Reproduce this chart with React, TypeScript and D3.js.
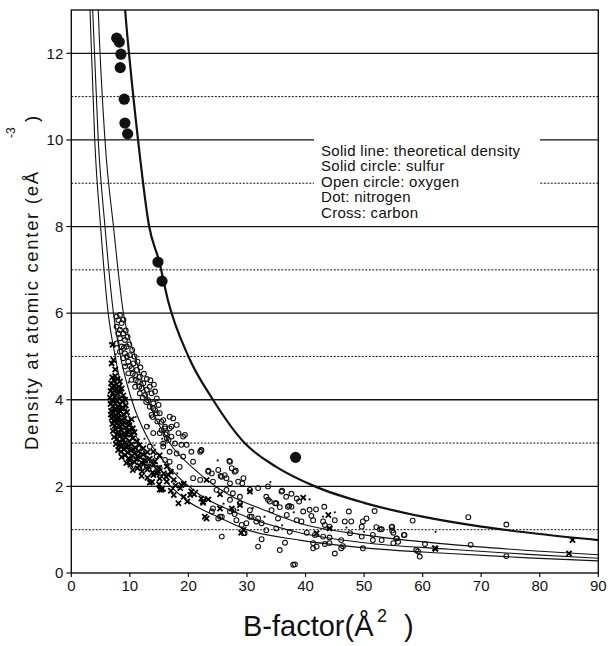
import React from "react";
import * as d3 from "d3";

const WIDTH = 608;
const HEIGHT = 646;
const plot = { left: 71.3, right: 598.3, top: 10, bottom: 573 };

// axis ticks
const xTicks = [0, 10, 20, 30, 40, 50, 60, 70, 80, 90];
const yTicks = [0, 2, 4, 6, 8, 10, 12];
const gridSolid = [2, 4, 6, 8, 10, 12];
const gridDotted = [1, 3, 5, 7, 9, 11];

const legendLines = [
  "Solid line: theoretical density",
  "Solid circle: sulfur",
  "Open circle: oxygen",
  "Dot: nitrogen",
  "Cross: carbon",
];

// theoretical density curves, [B, density]
const sulfurCurve = [
  [8.9, 13.6], [9.2, 13], [10, 11.8], [11.4, 10], [13.3, 8], [15, 7.2], [16.5, 6.3],
  [20, 5.0], [24.2, 4.0], [29.6, 3.0], [35, 2.45], [41.6, 2.0], [50, 1.62],
  [60, 1.3], [70, 1.07], [80, 0.9], [90, 0.76],
];
const oxygenCurve = [
  [4.4, 13.8], [4.6, 13], [5.75, 10], [7.2, 8], [8.9, 6], [10.9, 5], [13.1, 4],
  [16.8, 3], [21, 2.4], [27, 1.8], [33, 1.45], [39, 1.15], [50, 0.88],
  [64.6, 0.66], [78, 0.52], [90, 0.42],
];
const nitrogenCurve = [
  [3.45, 13.8], [3.65, 13], [4.6, 10], [5.75, 8], [7.2, 6], [8.4, 5], [10.3, 4],
  [13.5, 3], [17, 2.4], [22, 1.8], [28, 1.4], [39, 0.93], [50, 0.7],
  [64.6, 0.55], [78, 0.43], [90, 0.34],
];
const carbonCurve = [
  [3.0, 13.8], [3.2, 13], [4.0, 10], [5.0, 8], [6.3, 6], [7.5, 5], [9.0, 4],
  [11.6, 3], [15, 2.3], [20, 1.65], [25, 1.3], [30, 1.0], [39, 0.76],
  [50, 0.58], [64.6, 0.45], [78, 0.35], [90, 0.28],
];

const sulfurPoints = [
  [7.75, 12.35], [8.19, 12.26], [8.48, 11.98], [8.36, 11.67], [9.04, 10.94],
  [9.16, 10.39], [9.62, 10.14], [14.8, 7.18], [15.5, 6.74], [38.3, 2.67],
];

const oxygenPoints = [
  [7.74, 5.92], [8.31, 5.96], [8.03, 5.84], [8.6, 5.77], [7.74, 5.69], [8.31, 5.61],
  [8.03, 5.53], [8.88, 5.53], [8.31, 5.42], [9.17, 5.38], [7.74, 5.3], [8.6, 5.23],
  [9.45, 5.23], [8.31, 5.11], [9.17, 5.07], [10.0, 5.03], [8.88, 4.96], [9.73, 4.88],
  [10.6, 4.84], [9.17, 4.77], [10.3, 4.73], [11.2, 4.69], [9.73, 4.61], [10.9, 4.57],
  [11.7, 4.53], [10.3, 4.46], [11.4, 4.42], [12.3, 4.38], [10.9, 4.3], [12.0, 4.27],
  [12.9, 4.23], [13.4, 4.3], [11.7, 4.15], [12.6, 4.11], [13.7, 4.15], [14.6, 4.03],
  [13.1, 3.99], [14.0, 3.92], [14.9, 3.88], [13.4, 3.84], [14.3, 3.76], [15.1, 3.69],
  [13.7, 3.65], [15.7, 3.53], [16.8, 3.61], [17.4, 3.57], [16.0, 3.38], [16.8, 3.34],
  [18.0, 3.42], [16.3, 3.23], [17.1, 3.15], [18.3, 3.23], [16.6, 3.07], [17.7, 2.99],
  [15.7, 2.92], [16.8, 2.8], [18.0, 2.76], [14.6, 2.69], [16.0, 2.61], [13.7, 2.53],
  [15.1, 2.42], [12.9, 2.46], [12.3, 2.69], [13.4, 2.92], [14.0, 3.23], [12.9, 3.38],
  [8.9, 5.85], [9.3, 5.6], [9.6, 5.45], [9.9, 5.28], [10.4, 5.15], [10.8, 5.0],
  [11.3, 4.88], [11.8, 4.75], [12.4, 4.6], [12.9, 4.48], [13.5, 4.45], [14.1, 4.35],
  [9.0, 5.2], [9.5, 5.0], [10.0, 4.78], [10.5, 4.6], [11.0, 4.45], [11.6, 4.3],
  [12.2, 4.05], [12.8, 3.95], [13.9, 3.6], [14.7, 3.5], [15.4, 3.3], [16.1, 3.2],
  [14.3, 4.19], [14.0, 3.8], [14.6, 3.69], [15.4, 3.49], [15.1, 3.23], [16.0, 3.34],
  [17.1, 3.38], [16.3, 3.11], [15.7, 2.99], [19.1, 3.15], [19.4, 3.19], [18.8, 2.96],
  [19.7, 2.96], [20.5, 2.8], [22.0, 2.8], [22.2, 2.84], [20.8, 2.57], [19.1, 2.69],
  [23.4, 2.34], [25.1, 2.38], [24.0, 2.3], [25.7, 2.22], [26.2, 2.26], [27.1, 2.57],
  [27.4, 2.42], [27.9, 2.34], [28.5, 2.11], [29.4, 2.19], [27.1, 2.07], [24.8, 1.92],
  [24.2, 2.11], [26.5, 1.92], [27.6, 1.84], [27.1, 1.69], [28.8, 1.76], [24.0, 1.42],
  [25.1, 1.26], [25.7, 0.84], [20.8, 2.19], [22.0, 2.15], [18.5, 2.45], [16.8, 2.57],
  [30.5, 1.92], [31.9, 1.96], [33.6, 2.0], [35.9, 1.88], [36.7, 1.76], [33.3, 1.76],
  [33.9, 1.65], [35.0, 1.61], [37.0, 1.53], [38.5, 1.72], [32.5, 0.78], [31.9, 0.61],
  [35.6, 0.53], [36.5, 0.7], [29.6, 0.92], [24.2, 1.49], [25.7, 1.3], [27.9, 1.36],
  [30.5, 1.3], [31.6, 1.19], [29.1, 1.11], [27.1, 1.42],
  [22.2, 2.83], [27.0, 2.59], [28.1, 2.36], [23.4, 2.36], [25.5, 2.24], [26.5, 2.19],
  [29.2, 2.07], [36.0, 1.9], [37.6, 1.83], [34.8, 1.61], [35.6, 1.52], [37.2, 1.55],
  [31.9, 1.26], [30.8, 1.3], [32.5, 1.15], [27.7, 1.45], [25.4, 1.3], [29.4, 0.92],
  [38.2, 0.2], [33.6, 1.69], [34.2, 1.45], [36.8, 1.34], [35.3, 1.26], [30.5, 1.45],
  [28.8, 1.61], [33.3, 0.99], [35.0, 1.03], [37.3, 0.95], [29.9, 1.15], [28.2, 1.22],
  [38.9, 1.65], [37.6, 1.53], [39.6, 1.42], [40.7, 1.46], [41.8, 1.47], [43.2, 1.53],
  [47.4, 1.42], [51.8, 1.43], [38.5, 1.22], [39.3, 1.19], [41.0, 1.32], [41.3, 1.22],
  [43.0, 1.19], [43.3, 1.11], [44.1, 1.07], [45.0, 1.22], [46.7, 1.19], [47.8, 1.19],
  [49.8, 1.19], [50.4, 1.26], [49.6, 1.07], [52.1, 1.06], [52.7, 1.01], [54.7, 1.06],
  [40.2, 0.93], [41.6, 0.88], [43.0, 0.84], [44.1, 0.82], [46.1, 0.76], [47.6, 0.92],
  [49.6, 0.84], [51.5, 0.88], [53.0, 0.76], [55.5, 0.8], [56.9, 0.88], [41.3, 0.69],
  [41.9, 0.61], [43.3, 0.67], [44.1, 0.69], [46.4, 0.62], [46.1, 0.57], [49.8, 0.57],
  [51.5, 0.76], [55.0, 0.69], [60.4, 0.67], [45.0, 0.45], [41.3, 0.57], [37.9, 0.19],
  [58.3, 1.21], [67.8, 1.29], [74.3, 1.12], [53.0, 1.01], [54.8, 1.07], [54.8, 0.98],
  [55.0, 0.93], [55.6, 0.8], [55.8, 0.72], [56.8, 0.88], [68.2, 0.65], [58.9, 0.53],
  [59.2, 0.5], [59.5, 0.38], [74.3, 0.39],
];

const carbonPoints = [
  [7.0, 4.52], [7.5, 4.55], [7.9, 4.48], [8.3, 4.42],
  [6.8, 4.38], [7.3, 4.33], [7.7, 4.36], [8.1, 4.3], [8.6, 4.26],
  [6.7, 4.2], [7.1, 4.16], [7.5, 4.22], [7.9, 4.14], [8.4, 4.18], [8.9, 4.1],
  [6.6, 4.05], [7.0, 4.0], [7.4, 4.07], [7.8, 3.98], [8.2, 4.03], [8.7, 3.96], [9.2, 4.0],
  [6.7, 3.9], [7.1, 3.85], [7.5, 3.92], [7.9, 3.84], [8.3, 3.89], [8.8, 3.82], [9.3, 3.87],
  [6.8, 3.74], [7.2, 3.7], [7.6, 3.77], [8.0, 3.68], [8.4, 3.73], [8.9, 3.66], [9.5, 3.71],
  [6.9, 3.58], [7.3, 3.62], [7.7, 3.55], [8.1, 3.6], [8.6, 3.53], [9.1, 3.57], [9.7, 3.5], [10.3, 3.55],
  [7.0, 3.44], [7.4, 3.4], [7.8, 3.47], [8.3, 3.38], [8.8, 3.43], [9.3, 3.36], [9.9, 3.41], [10.5, 3.34],
  [7.1, 3.28], [7.6, 3.32], [8.0, 3.25], [8.5, 3.3], [9.0, 3.22], [9.6, 3.27], [10.2, 3.2], [10.8, 3.25],
  [7.3, 3.14], [7.8, 3.1], [8.3, 3.17], [8.8, 3.08], [9.3, 3.13], [9.9, 3.05], [10.5, 3.11], [11.2, 3.04],
  [7.6, 2.98], [8.1, 3.02], [8.6, 2.95], [9.1, 3.0], [9.7, 2.93], [10.3, 2.97], [10.9, 2.9], [11.6, 2.95], [12.3, 2.88],
  [8.0, 2.84], [8.5, 2.8], [9.0, 2.86], [9.6, 2.78], [10.2, 2.83], [10.8, 2.76], [11.5, 2.81], [12.2, 2.74], [13.0, 2.79],
  [8.6, 2.68], [9.2, 2.72], [9.8, 2.65], [10.4, 2.7], [11.1, 2.63], [11.8, 2.67], [12.6, 2.6], [13.4, 2.64], [14.3, 2.58],
  [9.4, 2.54], [10.1, 2.5], [10.8, 2.56], [11.6, 2.48], [12.4, 2.52], [13.2, 2.45], [14.1, 2.5], [15.0, 2.43],
  [10.5, 2.38], [11.3, 2.42], [12.1, 2.35], [13.0, 2.39], [13.9, 2.32], [14.8, 2.36], [15.8, 2.3], [17.0, 2.34],
  [12.0, 2.24], [13.0, 2.2], [14.0, 2.26], [15.1, 2.18], [16.2, 2.22], [17.5, 2.15],
  [13.8, 2.1], [15.0, 2.05], [16.3, 2.11], [17.8, 2.02], [19.2, 2.06],
  [15.5, 1.95], [17.0, 1.9], [18.6, 1.96], [20.5, 1.88],
  [17.5, 1.8], [19.2, 1.76], [21.0, 1.82], [19.8, 1.65], [22.5, 1.62],
  [7.25, 4.45], [7.65, 4.26], [7.15, 3.96], [7.55, 3.8], [7.95, 3.56], [7.45, 3.5],
  [8.15, 3.42], [8.55, 3.2], [7.95, 3.2], [8.45, 2.92], [9.4, 2.9], [10.0, 2.6],
  [6.95, 4.28], [8.0, 4.2], [6.75, 3.66], [8.6, 3.8], [9.0, 3.48], [7.2, 3.52],
  [9.5, 3.2], [10.6, 2.85], [11.3, 2.7], [9.9, 3.3], [8.2, 2.95], [12.0, 2.55],
  [7.06, 5.27], [6.9, 4.84], [7.2, 4.92], [7.5, 4.7], [13.4, 2.09], [15.1, 1.93],
  [14.0, 2.8], [15.1, 2.72], [16.3, 2.46], [14.6, 2.3], [16.6, 2.26], [15.4, 1.92],
  [18.3, 1.61], [18.8, 2.03], [20.3, 1.8], [22.2, 1.72], [22.5, 1.65], [23.1, 1.26],
  [25.4, 1.49], [28.8, 1.57], [30.5, 1.88], [29.4, 1.0], [23.1, 2.15], [23.4, 1.7],
  [22.8, 1.3], [39.6, 1.74], [43.9, 1.34], [41.9, 0.92], [29.0, 0.93], [27.4, 1.49],
  [25.4, 1.82], [62.1, 0.57], [44.1, 1.03], [85.6, 0.76], [85.0, 0.45], [62.2, 0.56],
];

const nitrogenPoints = [
  [8.5, 5.65], [7.6, 5.05], [6.6, 5.3], [9.8, 4.4], [11.0, 3.6], [12.5, 3.1], [14.2, 2.95],
  [16.5, 2.5], [18.1, 2.3], [20.5, 2.0], [23.0, 1.75], [26.0, 1.6], [28.5, 1.45],
  [33.0, 1.3], [40.7, 1.7], [43.0, 1.3], [38.0, 1.4], [47.0, 1.05], [50.0, 0.95],
  [62.2, 0.95], [36.0, 1.1], [31.0, 1.5], [21.5, 1.9], [15.5, 3.1], [13.2, 3.4],
  [10.5, 4.0], [9.2, 4.8], [16.0, 1.9], [25.0, 2.6], [12.0, 2.4], [45.0, 1.4], [34.0, 2.1],
];

const FONT = "'Liberation Sans', Arial, sans-serif";
const INK = "#111";

export default function App() {
  const x = d3.scaleLinear().domain([0, 90]).range([plot.left, plot.right]);
  const y = d3.scaleLinear().domain([0, 13]).range([plot.bottom, plot.top]);

  const line = d3
    .line<number[]>()
    .x((d) => x(d[0]))
    .y((d) => y(d[1]))
    .curve(d3.curveMonotoneX);

  return (
    <svg
      width={WIDTH}
      height={HEIGHT}
      style={{ position: "absolute", left: 0, top: 0, background: "#fff" }}
      fontFamily={FONT}
    >
      <defs>
        <clipPath id="plotArea">
          <rect x={plot.left} y={plot.top} width={plot.right - plot.left} height={plot.bottom - plot.top} />
        </clipPath>
      </defs>

      {/* grid */}
      {gridSolid.map((v) => (
        <line key={"s" + v} x1={plot.left} x2={plot.right} y1={y(v)} y2={y(v)} stroke={INK} strokeWidth={1.3} />
      ))}
      {gridDotted.map((v) => (
        <line key={"d" + v} x1={plot.left} x2={plot.right} y1={y(v)} y2={y(v)} stroke={INK} strokeWidth={1} strokeDasharray="2,1.5" />
      ))}

      {/* legend */}
      <rect x={314} y={137} width={226} height={85} fill="#fff" />
      {legendLines.map((t, i) => (
        <text key={t} x={321} y={156 + i * 15.4} fontSize={15} letterSpacing={0.3} fill={INK}>
          {t}
        </text>
      ))}

      <g clipPath="url(#plotArea)" fill="none" stroke={INK}>
        <path d={line(carbonCurve) || ""} strokeWidth={1.1} />
        <path d={line(nitrogenCurve) || ""} strokeWidth={1.1} />
        <path d={line(oxygenCurve) || ""} strokeWidth={1.1} />
        <path d={line(sulfurCurve) || ""} strokeWidth={2.2} />
      </g>

      {/* carbon crosses */}
      <g stroke="#000" strokeWidth={1.8}>
        {carbonPoints.map((d, i) => {
          const cx = x(d[0]);
          const cy = y(d[1]);
          const s = 2.6;
          return (
            <path key={i} d={`M${cx - s},${cy - s}L${cx + s},${cy + s}M${cx - s},${cy + s}L${cx + s},${cy - s}`} />
          );
        })}
      </g>

      {/* oxygen open circles */}
      <g fill="none" stroke={INK} strokeWidth={1.1}>
        {oxygenPoints.map((d, i) => (
          <circle key={i} cx={x(d[0])} cy={y(d[1])} r={2.4} />
        ))}
      </g>

      {/* nitrogen dots */}
      <g fill={INK}>
        {nitrogenPoints.map((d, i) => (
          <circle key={i} cx={x(d[0])} cy={y(d[1])} r={1.1} />
        ))}
      </g>

      {/* sulfur */}
      <g fill={INK}>
        {sulfurPoints.map((d, i) => (
          <circle key={i} cx={x(d[0])} cy={y(d[1])} r={5.6} />
        ))}
      </g>

      {/* frame */}
      <rect
        x={plot.left}
        y={plot.top}
        width={plot.right - plot.left}
        height={plot.bottom - plot.top}
        fill="none"
        stroke={INK}
        strokeWidth={1.4}
      />

      {/* y axis */}
      {yTicks.map((v) => (
        <g key={v}>
          <line x1={plot.left - 5} x2={plot.left} y1={y(v)} y2={y(v)} stroke={INK} strokeWidth={1.2} />
          <text x={plot.left - 8} y={y(v)} dy="0.35em" textAnchor="end" fontSize={15} fill={INK}>
            {v}
          </text>
        </g>
      ))}

      {/* x axis */}
      {xTicks.map((v) => (
        <g key={v}>
          <line x1={x(v)} x2={x(v)} y1={plot.bottom} y2={plot.bottom + 4} stroke={INK} strokeWidth={1.2} />
          <text x={x(v)} y={591} textAnchor="middle" fontSize={15} fill={INK}>
            {v}
          </text>
        </g>
      ))}

      {/* axis titles */}
      <g transform="translate(38,450) rotate(-90)" fill={INK}>
        <text x={0} y={0} fontSize={18.5} textLength={278} lengthAdjust="spacing">
          Density at atomic center (eÅ
        </text>
        <text x={312} y={-23} fontSize={12}>
          -3
        </text>
        <text x={328} y={0} fontSize={18.5}>
          )
        </text>
      </g>
      <g fill={INK}>
        <text x={243} y={636} fontSize={29}>
          B-factor(Å
        </text>
        <text x={377} y={622} fontSize={18}>
          2
        </text>
        <text x={404} y={636} fontSize={29}>
          )
        </text>
      </g>
    </svg>
  );
}
